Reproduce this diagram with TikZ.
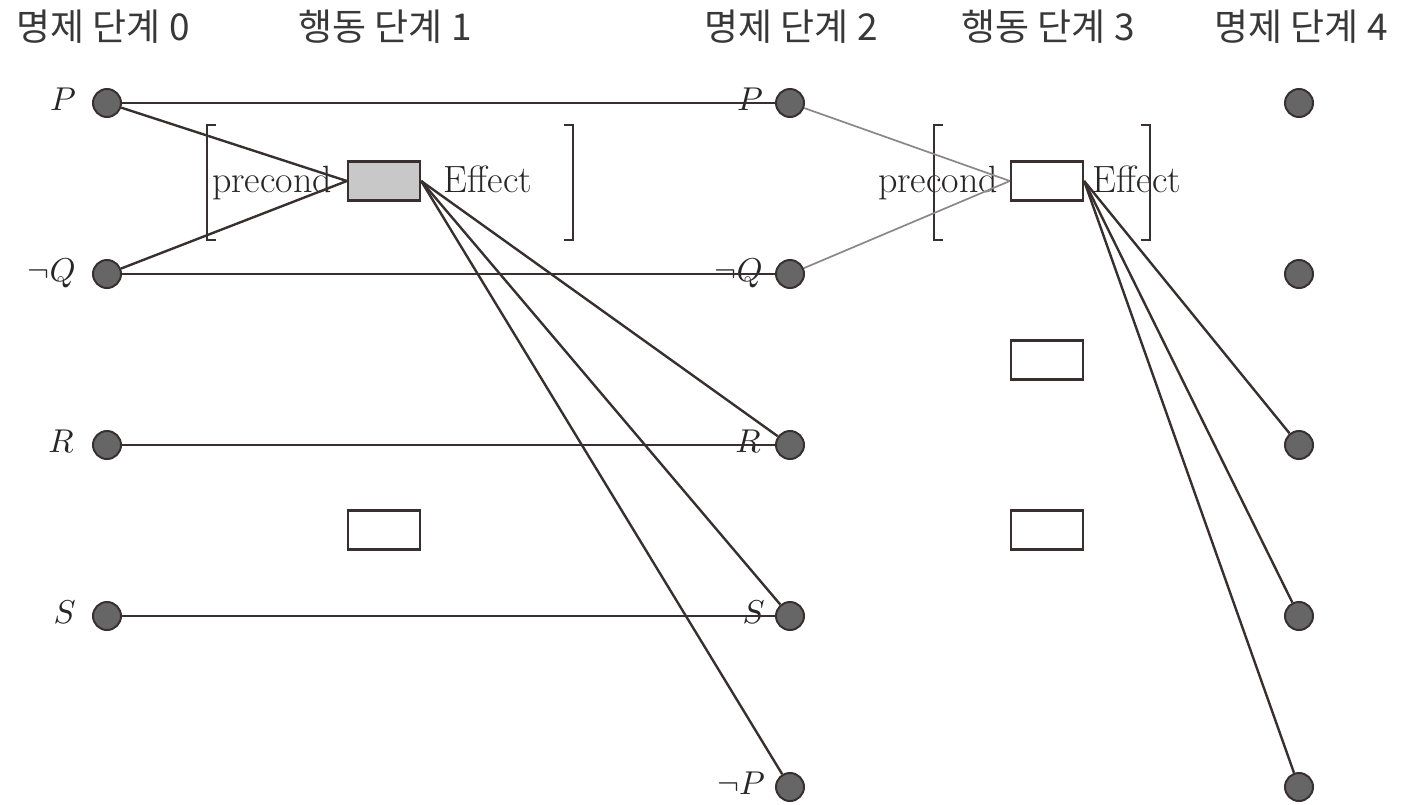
\documentclass[tikz,border=0pt]{standalone}
\usepackage{graphicx}
\usepackage{fontspec}
\newfontfamily\krfont{Noto Sans CJK KR}
\definecolor{linec}{RGB}{56,48,48}
\definecolor{softc}{RGB}{140,134,134}
\definecolor{dotfill}{RGB}{102,102,102}
\definecolor{boxgray}{RGB}{200,200,200}
\newcommand{\biglab}[1]{\scalebox{3.3}{$#1$}}
\begin{document}
\begin{tikzpicture}[x=1pt,y=-1pt,
  prop/.style={circle, draw=linec, fill=dotfill, line width=2pt, minimum size=28pt, inner sep=0},
  act/.style={draw=linec, fill=white, line width=2.3pt, minimum width=72pt, minimum height=39pt, inner sep=0},
  head/.style={text=black!78, font=\krfont\fontsize{37}{42}\selectfont, inner sep=0},
  lab/.style={anchor=base east, inner sep=0, text=black!85},
  tag/.style={anchor=base, inner sep=0, text=black!85, font=\fontsize{38}{44}\selectfont},
  link/.style={draw=linec, line width=2.4pt},
  soft/.style={draw=softc, line width=1.7pt},
  brk/.style={draw=linec, line width=2.4pt}
]
\useasboundingbox (0,0) rectangle (1409,804);

% column headers
\node[head] (h0) at (103,27) {명제 단계 0};
\node[head] (h1) at (385,27) {행동 단계 1};
\node[head] (h2) at (791,27) {명제 단계 2};
\node[head] (h3) at (1048,27) {행동 단계 3};
\node[head] (h4) at (1301,27) {명제 단계 4};

% proposition level 0
\node[prop] (p0)  at (107,103) {};
\node[prop] (nq0) at (107,274) {};
\node[prop] (r0)  at (107,445) {};
\node[prop] (s0)  at (107,616) {};
\node[lab] (lp0)  at (76,110) {\biglab{P}};
\node[lab] (lnq0) at (76,281) {\biglab{\neg Q}};
\node[lab] (lr0)  at (74,452) {\biglab{R}};
\node[lab] (ls0)  at (76,623) {\biglab{S}};

% proposition level 2
\node[prop] (p2)  at (790,103) {};
\node[prop] (nq2) at (790,274) {};
\node[prop] (r2)  at (790,445) {};
\node[prop] (s2)  at (790,616) {};
\node[prop] (np2) at (790,787) {};
\node[lab] (lp2)  at (763,110) {\biglab{P}};
\node[lab] (lnq2) at (763,281) {\biglab{\neg Q}};
\node[lab] (lr2)  at (761,452) {\biglab{R}};
\node[lab] (ls2)  at (765,623) {\biglab{S}};
\node[lab] (lnp2) at (765,794) {\biglab{\neg P}};

% proposition level 4
\node[prop] (p4)  at (1299,103) {};
\node[prop] (nq4) at (1299,274) {};
\node[prop] (r4)  at (1299,445) {};
\node[prop] (s4)  at (1299,616) {};
\node[prop] (np4) at (1299,787) {};

% action level 1
\node[act, fill=boxgray] (a1) at (384,181) {};
\node[act] (a2) at (384,530) {};
\node[tag] (pre1) at (272,192) {precond};
\node[tag] (eff1) at (488,192) {Effect};
\draw[brk] (216,125) -- (207,125) -- (207,240) -- (216,240);
\draw[brk] (564,125) -- (573,125) -- (573,240) -- (564,240);

% action level 3
\node[act] (b1) at (1047,181) {};
\node[act] (b2) at (1047,360) {};
\node[act] (b3) at (1047,530) {};
\node[tag] (pre3) at (938,192) {precond};
\node[tag] (eff3) at (1137,192) {Effect};
\draw[brk] (943,125) -- (934,125) -- (934,240) -- (943,240);
\draw[brk] (1141,125) -- (1150,125) -- (1150,240) -- (1141,240);

% persistence links
\draw[link] (p0) -- (p2);
\draw[link] (nq0) -- (nq2);
\draw[link] (r0) -- (r2);
\draw[link] (s0) -- (s2);

% preconditions and effects of action 1
\draw[link] (p0) -- (a1.west);
\draw[link] (nq0) -- (a1.west);
\draw[link] (a1.east) -- (r2);
\draw[link] (a1.east) -- (s2);
\draw[link] (a1.east) -- (np2);

% preconditions and effects of action 3
\draw[soft] (p2) -- (b1.west);
\draw[soft] (nq2) -- (b1.west);
\draw[link] (b1.east) -- (r4);
\draw[link] (b1.east) -- (s4);
\draw[link] (b1.east) -- (np4);
\end{tikzpicture}
\end{document}
